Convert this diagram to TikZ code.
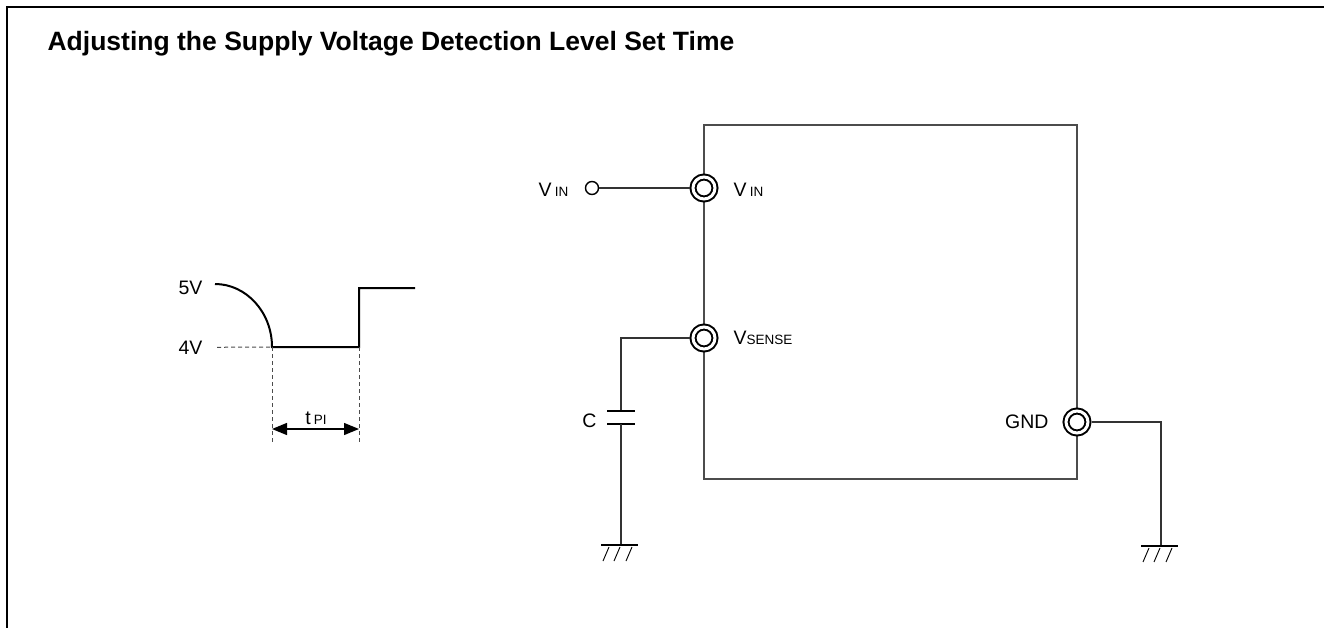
\documentclass[tikz,border=0pt]{standalone}
\usepackage{fontspec}
\setmainfont{Liberation Sans}
\usetikzlibrary{arrows.meta}
\newcommand\smalltxt[1]{{\fontsize{13.5}{13.5}\selectfont #1}}
\begin{document}
\begin{tikzpicture}[x=1pt, y=-1pt, line width=1.2pt,
  pin node/.style={circle, draw, double, double distance=3pt, line width=2pt, fill=white, minimum size=22pt, inner sep=0pt, outer sep=3.5pt},
  term node/.style={circle, draw, line width=1.4pt, fill=white, minimum size=13pt, inner sep=0pt},
  label node/.style={font=\fontsize{19.5}{19.5}\selectfont, inner sep=0pt},
  title node/.style={font=\fontsize{26.5}{26.5}\selectfont\bfseries, inner sep=0pt},
  wire/.style={line width=1.3pt, draw=black!80},
  plate/.style={line width=2pt},
  dim line/.style={dash pattern=on 4pt off 3pt, line width=1pt, draw=black!70},
  earth/.pic={
    \draw[line width=2.2pt] (-20,0) -- (17,0);
    \foreach \dx in {-12,-1,11} \draw[line width=0.9pt] (\dx,2) -- (\dx-6,16);
  }]
\useasboundingbox (0,0) rectangle (1324,628);
\draw[line width=2.5pt] (7,628) -- (7,7) -- (1324,7);
\node[title node, anchor=base west] (title) at (47,51) {Adjusting the Supply Voltage Detection Level Set Time};

% waveform
\begin{scope}
\node[label node, anchor=base east] (v5) at (203,294) {5V};
\node[label node, anchor=base east] (v4) at (203,354) {4V};
\coordinate (start) at (215,284);
\coordinate (fall) at (272,347);
\coordinate (rise) at (359,347);
\coordinate (high) at (359,288);
\coordinate (stop) at (415,288);
\coordinate (fallb) at (272,442);
\coordinate (riseb) at (359,442);
\coordinate (arrl) at (272,429);
\coordinate (arrr) at (359,429);
\draw[line width=2pt] (start) .. controls (246,284) and (272,312) .. (fall) -- (rise) -- (high) -- (stop);
\draw[dim line] ([xshift=14pt]v4.east) -- (fall);
\draw[dim line] (fall) -- (fallb);
\draw[dim line] (rise) -- (riseb);
\draw[line width=1.3pt, {Triangle[length=15pt,width=12pt]}-{Triangle[length=15pt,width=12pt]}] (arrl) -- (arrr);
\node[label node, anchor=base] (tpi) at (316,424) {t\,\smalltxt{PI}};
\end{scope}

% circuit
\begin{scope}
\node[draw=black!70, line width=1.5pt, minimum width=373pt, minimum height=354pt, inner sep=0pt] (chip) at (890.5,302) {};
\node[pin node] (vin) at (704,188) {};
\node[pin node] (vsense) at (704,338) {};
\node[pin node] (gnd) at (1077,422) {};
\node[term node] (vinext) at (592,188) {};
\node[label node, anchor=base east] (lvinext) at (569,197) {V\,\smalltxt{IN}};
\node[label node, anchor=base west] (lvin) at (733,197) {V\,\smalltxt{IN}};
\node[label node, anchor=base west] (lvsense) at (733,344) {V\smalltxt{SENSE}};
\node[label node, anchor=base east] (lgnd) at (1049,428) {GND};
\node[label node, anchor=base east] (lcap) at (597,427) {C};
\coordinate (ctop) at (621,411);
\coordinate (cbot) at (621,424);
\coordinate (gl) at (621,545);
\coordinate (gr) at (1161,546);
\draw[wire] (vinext) -- (vin);
\draw[wire] (vsense.west) -| (ctop);
\draw[plate] ([xshift=-14pt]ctop) -- ([xshift=14pt]ctop);
\draw[plate] ([xshift=-14pt]cbot) -- ([xshift=14pt]cbot);
\draw[wire] (cbot) -- (gl);
\draw[wire] (gnd.east) -| (gr);
\pic at (gl) {earth};
\pic at (gr) {earth};
\end{scope}
\end{tikzpicture}
\end{document}
